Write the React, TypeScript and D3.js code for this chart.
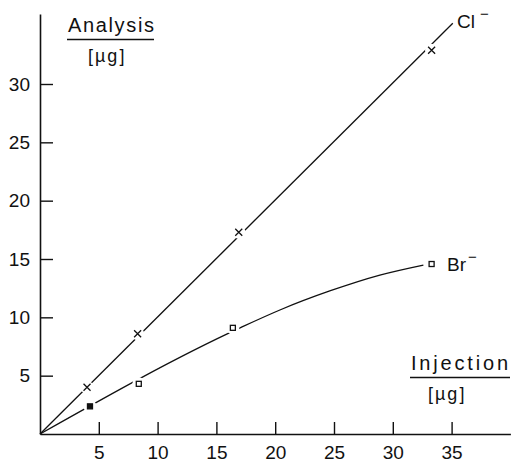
import React, { useRef, useEffect } from "react";
import * as d3 from "d3";

// measured points (injection µg, analysis µg)
const clPoints: [number, number][] = [
  [4, 4],
  [8.3, 8.6],
  [16.9, 17.3],
  [33.3, 32.9],
];
const brPoints: [number, number][] = [
  [4.25, 2.37],
  [8.4, 4.3],
  [16.4, 9.1],
  [33.3, 14.57],
];
// the hand drawn lines, read along their path
const clLine: [number, number][] = [
  [0, 0],
  [35.1, 35.2],
];
const brLine: [number, number][] = [
  [0, 0],
  [17.1, 9.14],
  [20.4, 10.63],
  [24.7, 12.28],
  [28.9, 13.62],
  [32.6, 14.48],
];
const xTicks = [5, 10, 15, 20, 25, 30, 35];
const yTicks = [5, 10, 15, 20, 25, 30];

function App() {
  const svgRef = useRef<SVGSVGElement>(null);

  useEffect(() => {
    document.body.style.margin = "0";
    const w = 511;
    const h = 464;
    const font = "'Liberation Sans', Arial, sans-serif";
    const ink = "#111";

    const svg = d3.select(svgRef.current);
    svg.selectAll("*").remove();
    svg.attr("width", w).attr("height", h).style("display", "block");

    // scales
    const x = d3.scaleLinear().domain([0, 40]).range([40, 510.4]);
    const y = d3.scaleLinear().domain([0, 36]).range([434, 14]);

    // axes (ticks pointing inward)
    const xAxis = d3
      .axisBottom(x)
      .tickValues(xTicks)
      .tickSizeInner(-12)
      .tickSizeOuter(0)
      .tickPadding(12);
    const yAxis = d3
      .axisLeft(y)
      .tickValues(yTicks)
      .tickSizeInner(-13)
      .tickSizeOuter(0)
      .tickPadding(10);

    const gx = svg.append("g").attr("transform", `translate(0, ${y(0)})`).call(xAxis);
    const gy = svg.append("g").attr("transform", `translate(${x(0)}, 0)`).call(yAxis);
    [gx, gy].forEach((g) => {
      g.select(".domain").attr("stroke", ink).attr("stroke-width", 1.6);
      g.selectAll(".tick line").attr("stroke", ink).attr("stroke-width", 1.4);
      g.selectAll(".tick text")
        .attr("fill", ink)
        .style("font-family", font)
        .style("font-size", "19px");
    });

    // lines
    const line = d3
      .line<[number, number]>()
      .x((d) => x(d[0]))
      .y((d) => y(d[1]));
    svg
      .append("path")
      .attr("d", line(clLine))
      .attr("fill", "none")
      .attr("stroke", ink)
      .attr("stroke-width", 1.3);
    svg
      .append("path")
      .attr("d", line.curve(d3.curveMonotoneX)(brLine))
      .attr("fill", "none")
      .attr("stroke", ink)
      .attr("stroke-width", 1.3);

    // white gaps around the markers
    svg
      .selectAll("circle.gap")
      .data([...clPoints, ...brPoints])
      .enter()
      .append("circle")
      .attr("class", "gap")
      .attr("cx", (d) => x(d[0]))
      .attr("cy", (d) => y(d[1]))
      .attr("r", 6.5)
      .attr("fill", "#fff");

    // crosses for Cl-
    svg
      .selectAll("path.cross")
      .data(clPoints)
      .enter()
      .append("path")
      .attr("class", "cross")
      .attr("d", (d) => {
        const cx = x(d[0]);
        const cy = y(d[1]);
        const s = 3.5;
        return `M${cx - s},${cy - s}L${cx + s},${cy + s}M${cx - s},${cy + s}L${cx + s},${cy - s}`;
      })
      .attr("stroke", ink)
      .attr("stroke-width", 1.3);

    // small squares for Br-
    svg
      .selectAll("rect.sq")
      .data(brPoints)
      .enter()
      .append("rect")
      .attr("class", "sq")
      .attr("x", (d) => x(d[0]) - 2.5)
      .attr("y", (d) => y(d[1]) - 2.5)
      .attr("width", 5)
      .attr("height", 5)
      .attr("fill", (d, i) => (i === 0 ? ink : "#fff"))
      .attr("stroke", ink)
      .attr("stroke-width", 1.3);

    // series labels
    const clLabel = svg
      .append("text")
      .attr("x", 457)
      .attr("y", 28)
      .attr("fill", ink)
      .style("font-family", font)
      .style("font-size", "19px");
    clLabel.append("tspan").text("Cl");
    clLabel.append("tspan").attr("dx", 5).attr("dy", -9).style("font-size", "15px").text("−");

    const brLabel = svg
      .append("text")
      .attr("x", 447)
      .attr("y", 271)
      .attr("fill", ink)
      .style("font-family", font)
      .style("font-size", "19px");
    brLabel.append("tspan").text("Br");
    brLabel.append("tspan").attr("dx", 2).attr("dy", -9).style("font-size", "15px").text("−");

    // axis titles drawn as fractions
    const title = (tx: number, ty: number, top: string, topW: number, lineY: number, lx1: number, lx2: number, bx: number, by: number) => {
      svg
        .append("text")
        .attr("x", tx)
        .attr("y", ty)
        .attr("textLength", topW)
        .attr("lengthAdjust", "spacing")
        .attr("fill", ink)
        .style("font-family", font)
        .style("font-size", "20px")
        .text(top);
      svg
        .append("line")
        .attr("x1", lx1)
        .attr("x2", lx2)
        .attr("y1", lineY)
        .attr("y2", lineY)
        .attr("stroke", ink)
        .attr("stroke-width", 1.4);
      svg
        .append("text")
        .attr("x", bx)
        .attr("y", by)
        .attr("fill", ink)
        .style("font-family", font)
        .style("font-size", "18px")
        .style("letter-spacing", "2px")
        .text("[µg]");
    };
    title(68, 32, "Analysis", 86, 39.5, 67, 154, 88, 62);
    title(411, 370, "Injection", 97, 377.5, 410, 510, 428, 400);
  }, []);

  return <svg ref={svgRef}></svg>;
}

export default App;
